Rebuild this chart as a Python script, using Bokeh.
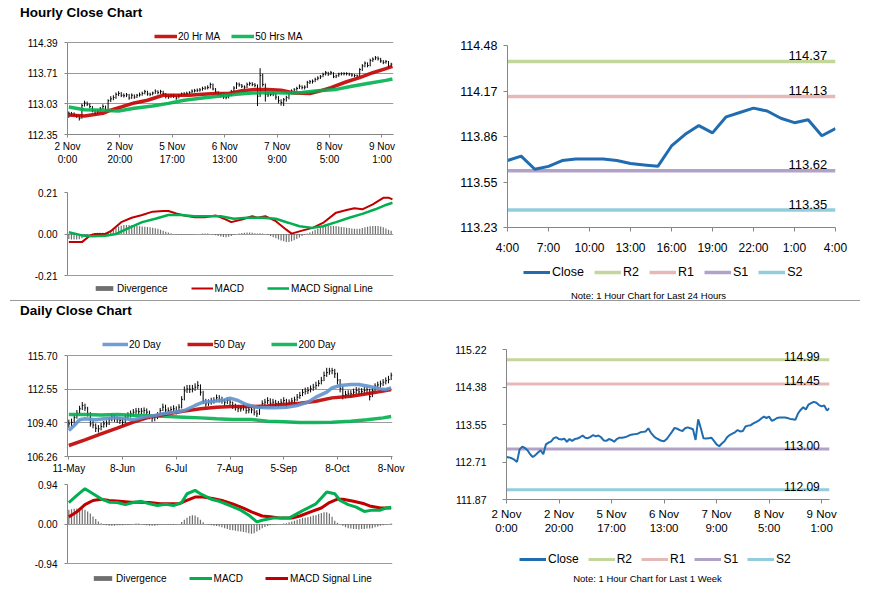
import numpy as np
from bokeh.plotting import figure
from bokeh.layouts import column, row
from bokeh.models import Div, Legend, LegendItem, FixedTicker, Label, Range1d
from bokeh.embed import file_html
from bokeh.resources import INLINE

FONT = "Liberation Sans"
AX = "#868686"
GRID = "#9a9a9a"

# ---------------- hourly data (1 week, hourly bars) ----------------
hourly_close = [
    112.82, 112.81, 112.79, 112.76, 112.71, 112.99, 113.05, 113.02, 112.97, 112.88,
    112.82, 112.86, 112.92, 112.97, 112.88, 113.10, 113.14, 113.17, 113.24, 113.26,
    113.22, 113.21, 113.23, 113.16, 113.22, 113.18, 113.22, 113.23, 113.26, 113.30,
    113.25, 113.24, 113.27, 113.31, 113.28, 113.30, 113.26, 113.19, 113.18, 113.22,
    113.20, 113.16, 113.22, 113.25, 113.25, 113.26, 113.28, 113.31, 113.32, 113.33,
    113.34, 113.37, 113.38, 113.39, 113.46, 113.36, 113.29, 113.24, 113.21, 113.18,
    113.17, 113.22, 113.30, 113.38, 113.47, 113.45, 113.42, 113.40, 113.46, 113.48,
    113.46, 113.44, 113.20, 113.66, 113.46, 113.24, 113.23, 113.24, 113.25, 113.18,
    113.10, 113.06, 113.12, 113.17, 113.26, 113.31, 113.34, 113.37, 113.42, 113.39,
    113.40, 113.50, 113.52, 113.53, 113.57, 113.60, 113.63, 113.68, 113.72, 113.69,
    113.72, 113.63, 113.65, 113.69, 113.70, 113.70, 113.70, 113.69, 113.67, 113.66,
    113.65, 113.79, 113.87, 113.93, 113.88, 113.99, 114.02, 114.05, 114.03, 113.98,
    113.95, 113.97, 113.86, 113.91]
hourly_high = [
    112.86, 112.85, 112.84, 112.80, 112.78, 113.03, 113.10, 113.08, 113.04, 112.98,
    112.90, 112.91, 112.96, 113.02, 112.99, 113.13, 113.20, 113.22, 113.28, 113.31,
    113.29, 113.26, 113.27, 113.25, 113.26, 113.24, 113.25, 113.28, 113.30, 113.34,
    113.32, 113.28, 113.30, 113.35, 113.33, 113.34, 113.32, 113.27, 113.22, 113.25,
    113.25, 113.21, 113.25, 113.28, 113.29, 113.30, 113.31, 113.35, 113.36, 113.37,
    113.38, 113.41, 113.42, 113.44, 113.50, 113.48, 113.38, 113.31, 113.26, 113.23,
    113.21, 113.26, 113.34, 113.42, 113.51, 113.50, 113.47, 113.44, 113.50, 113.52,
    113.51, 113.49, 113.46, 113.82, 113.70, 113.48, 113.29, 113.28, 113.29, 113.27,
    113.20, 113.13, 113.16, 113.21, 113.29, 113.35, 113.38, 113.41, 113.46, 113.44,
    113.44, 113.54, 113.56, 113.57, 113.61, 113.64, 113.67, 113.72, 113.76, 113.74,
    113.76, 113.73, 113.68, 113.72, 113.73, 113.73, 113.73, 113.72, 113.71, 113.69,
    113.68, 113.82, 113.91, 113.97, 113.95, 114.03, 114.06, 114.09, 114.08, 114.05,
    114.00, 114.00, 113.98, 113.94]
hourly_low = [
    112.72, 112.76, 112.75, 112.72, 112.66, 112.70, 112.97, 112.98, 112.93, 112.84,
    112.78, 112.80, 112.84, 112.90, 112.85, 112.86, 113.07, 113.11, 113.14, 113.20,
    113.18, 113.17, 113.18, 113.12, 113.14, 113.14, 113.16, 113.19, 113.21, 113.24,
    113.21, 113.20, 113.22, 113.25, 113.24, 113.25, 113.22, 113.15, 113.14, 113.16,
    113.16, 113.12, 113.15, 113.20, 113.21, 113.22, 113.24, 113.26, 113.28, 113.29,
    113.30, 113.32, 113.34, 113.35, 113.37, 113.33, 113.25, 113.20, 113.17, 113.14,
    113.13, 113.15, 113.20, 113.28, 113.36, 113.41, 113.38, 113.36, 113.38, 113.43,
    113.42, 113.40, 112.98, 113.18, 113.41, 113.08, 113.18, 113.20, 113.20, 113.12,
    113.04, 112.99, 112.98, 113.08, 113.13, 113.24, 113.29, 113.32, 113.36, 113.35,
    113.35, 113.38, 113.47, 113.48, 113.51, 113.55, 113.58, 113.62, 113.66, 113.65,
    113.67, 113.60, 113.60, 113.63, 113.66, 113.66, 113.66, 113.65, 113.63, 113.62,
    113.61, 113.63, 113.76, 113.84, 113.84, 113.86, 113.96, 114.00, 113.99, 113.94,
    113.91, 113.92, 113.82, 113.84]
ma20h_idx = [0, 6, 13, 16, 20, 25, 30, 36, 41, 46, 51, 56, 61, 66, 71, 76, 81, 86, 92, 95,
             100, 106, 111, 116, 121, 123.5]
ma20h = [112.78, 112.76, 112.82, 112.89, 112.96, 113.05, 113.11, 113.22, 113.22, 113.22,
         113.24, 113.26, 113.26, 113.32, 113.35, 113.35, 113.33, 113.27, 113.26, 113.30,
         113.39, 113.52, 113.61, 113.72, 113.81, 113.86]
ma50h_idx = [0, 6, 13, 19, 25, 32, 38, 44, 51, 57, 64, 70, 76, 83, 89, 95, 102, 108, 114, 121, 123.5]
ma50h = [112.96, 112.90, 112.89, 112.87, 112.93, 112.98, 113.04, 113.11, 113.16, 113.20,
         113.24, 113.27, 113.28, 113.27, 113.28, 113.32, 113.35, 113.42, 113.48, 113.55, 113.58]
hourly_xlabels = ["2 Nov\n0:00", "2 Nov\n20:00", "5 Nov\n17:00", "6 Nov\n13:00",
                  "7 Nov\n9:00", "8 Nov\n5:00", "9 Nov\n1:00"]
hourly_yticks = [112.35, 113.03, 113.71, 114.39]

# hourly MACD
hmacd_idx = [0, 5, 8, 10, 14, 16, 20, 24, 28, 32, 36, 38, 41, 44, 48, 52, 56, 60, 62, 66,
             70, 72, 75, 79, 83, 85, 89, 93, 97, 102, 106, 109, 112, 116, 120, 122, 123.5]
hmacd = [-0.041, -0.041, -0.009, 0.0, 0.0, 0.014, 0.06, 0.082, 0.096, 0.113, 0.116, 0.116,
         0.104, 0.094, 0.085, 0.085, 0.094, 0.073, 0.06, 0.073, 0.09, 0.082, 0.09, 0.065,
         0.022, 0.002, 0.017, 0.031, 0.056, 0.108, 0.121, 0.13, 0.125, 0.15, 0.183, 0.184, 0.175]
hsig_idx = [0, 5, 9, 14, 18, 23, 28, 33, 38, 43, 48, 53, 58, 63, 68, 74, 79, 84, 88, 93,
            97, 102, 107, 112, 117, 121, 123.5]
hsig = [0.009, -0.007, -0.012, -0.009, 0.0, 0.031, 0.06, 0.077, 0.096, 0.096, 0.09, 0.09,
        0.09, 0.077, 0.082, 0.082, 0.077, 0.056, 0.039, 0.031, 0.039, 0.06, 0.082, 0.102,
        0.125, 0.147, 0.158]
hdiv = [
    -0.025, -0.028, -0.028, -0.028, -0.026, -0.022, -0.015, -0.008, 0.000, 0.003,
    0.005, 0.006, 0.006, 0.006, 0.008, 0.012, 0.018, 0.026, 0.033, 0.038,
    0.042, 0.045, 0.046, 0.046, 0.045, 0.043, 0.041, 0.039, 0.038, 0.037,
    0.035, 0.034, 0.032, 0.029, 0.026, 0.022, 0.017, 0.012, 0.008, 0.004,
    0.000, -0.002, -0.003, -0.004, -0.004, -0.003, -0.002, -0.002, -0.001, 0.000,
    0.000, 0.002, 0.003, 0.002, 0.000, -0.003, -0.006, -0.010, -0.013, -0.015,
    -0.016, -0.014, -0.010, -0.005, 0.000, 0.003, 0.005, 0.006, 0.007, 0.007,
    0.006, 0.004, 0.002, 0.004, 0.003, 0.000, -0.005, -0.010, -0.016, -0.022,
    -0.028, -0.033, -0.037, -0.040, -0.040, -0.037, -0.032, -0.025, -0.018, -0.010,
    -0.004, 0.002, 0.008, 0.014, 0.020, 0.026, 0.031, 0.035, 0.038, 0.040,
    0.041, 0.041, 0.040, 0.038, 0.036, 0.034, 0.032, 0.030, 0.028, 0.027,
    0.026, 0.027, 0.030, 0.034, 0.037, 0.039, 0.040, 0.041, 0.040, 0.038,
    0.034, 0.028, 0.022, 0.016]
hmacd_yticks = [-0.21, 0.0, 0.21]
hmacd_ylabels = ["-0.21", "0.00", "0.21"]

# ---------------- daily data ----------------
daily_close = [
    109.31, 109.45, 109.90, 110.30, 110.72, 111.03, 110.80, 110.25, 109.31, 109.20,
    108.90, 108.85, 109.06, 109.31, 109.31, 109.70, 109.94, 109.80, 109.69, 109.63,
    109.45, 109.90, 110.10, 110.25, 110.40, 110.50, 110.45, 110.50, 110.56, 110.40,
    110.09, 109.85, 109.90, 110.09, 110.56, 110.87, 110.60, 110.56, 110.65, 110.72,
    110.56, 110.87, 111.60, 112.40, 112.58, 112.55, 112.60, 112.74, 112.90, 112.27,
    111.45, 111.18, 111.34, 111.45, 111.49, 111.75, 111.60, 111.49, 111.34, 111.49,
    111.34, 111.00, 110.87, 110.72, 110.72, 110.87, 110.56, 110.62, 110.62, 110.40,
    110.25, 110.80, 111.20, 111.34, 111.49, 111.25, 111.34, 111.20, 111.18, 111.34,
    111.49, 111.18, 111.34, 111.45, 111.55, 111.80, 111.96, 112.25, 112.35, 112.43,
    112.58, 112.74, 112.90, 113.10, 113.36, 113.83, 114.10, 114.25, 114.30, 113.99,
    113.40, 112.60, 111.96, 112.05, 112.12, 112.12, 112.27, 112.43, 112.30, 112.35,
    112.43, 112.49, 111.85, 112.40, 112.85, 112.95, 113.05, 113.20, 113.35, 113.45,
    113.85]
daily_high = [
    109.70, 109.80, 110.20, 110.60, 111.00, 111.35, 111.20, 110.90, 110.40, 109.60,
    109.35, 109.20, 109.40, 109.60, 109.65, 109.95, 110.25, 110.15, 110.00, 109.95,
    109.85, 110.15, 110.40, 110.55, 110.70, 110.80, 110.80, 110.80, 110.85, 110.75,
    110.55, 110.20, 110.20, 110.40, 110.80, 111.20, 111.10, 110.85, 110.95, 111.05,
    110.95, 111.15, 111.90, 112.80, 112.95, 112.95, 112.95, 113.10, 113.30, 113.00,
    112.40, 111.65, 111.60, 111.75, 111.80, 112.05, 112.00, 111.85, 111.65, 111.80,
    111.70, 111.40, 111.20, 111.05, 111.00, 111.15, 111.00, 110.90, 110.95, 110.80,
    110.60, 111.05, 111.50, 111.65, 111.80, 111.70, 111.65, 111.55, 111.45, 111.65,
    111.80, 111.65, 111.60, 111.75, 111.85, 112.10, 112.30, 112.55, 112.70, 112.75,
    112.90, 113.05, 113.25, 113.40, 113.70, 114.20, 114.55, 114.55, 114.55, 114.45,
    114.10, 113.50, 112.80, 112.40, 112.45, 112.45, 112.60, 112.75, 112.70, 112.65,
    112.75, 112.80, 112.60, 112.70, 113.10, 113.25, 113.35, 113.50, 113.65, 113.80,
    114.10]
daily_low = [
    108.95, 109.10, 109.35, 109.80, 110.20, 110.60, 110.50, 110.00, 109.05, 108.90,
    108.55, 108.50, 108.70, 108.95, 109.00, 109.20, 109.55, 109.50, 109.40, 109.30,
    109.15, 109.35, 109.75, 109.90, 110.05, 110.20, 110.15, 110.20, 110.25, 110.05,
    109.75, 109.50, 109.55, 109.75, 110.00, 110.50, 110.30, 110.25, 110.35, 110.40,
    110.20, 110.45, 110.75, 111.50, 112.20, 112.20, 112.25, 112.40, 112.55, 111.95,
    111.15, 110.90, 111.00, 111.10, 111.20, 111.40, 111.30, 111.20, 111.00, 111.15,
    111.00, 110.70, 110.55, 110.40, 110.45, 110.55, 110.25, 110.30, 110.30, 110.10,
    109.95, 110.15, 110.75, 111.00, 111.15, 110.95, 111.00, 110.90, 110.85, 111.00,
    111.15, 110.85, 111.00, 111.15, 111.20, 111.45, 111.65, 111.90, 112.05, 112.10,
    112.25, 112.40, 112.55, 112.80, 113.00, 113.30, 113.70, 113.90, 113.95, 113.60,
    113.00, 112.25, 111.60, 111.70, 111.80, 111.80, 111.95, 112.10, 112.00, 112.05,
    112.10, 112.15, 111.50, 111.80, 112.35, 112.60, 112.70, 112.85, 113.00, 113.10,
    113.40]
ma20d_idx = [0, 2, 4, 6, 10, 13, 17, 21, 24, 28, 32, 35, 39, 43, 47, 50, 54, 58, 60, 63,
             66, 70, 74, 77, 81, 85, 89, 92, 96, 98, 101, 105, 108, 112, 116, 118, 120]
ma20d = [108.69, 109.16, 109.69, 109.78, 109.69, 109.78, 109.87, 109.78, 109.69, 109.94,
         110.09, 110.25, 110.40, 110.56, 111.03, 111.34, 111.43, 111.55, 111.71, 111.49,
         111.12, 110.87, 110.81, 110.81, 110.87, 111.03, 111.34, 111.81, 112.27, 112.68,
         112.90, 112.99, 112.99, 112.80, 112.58, 112.52, 112.68]
ma50d_idx = [0, 6, 12, 18, 24, 30, 37, 43, 49, 55, 61, 68, 74, 80, 86, 92, 98, 105, 111, 117, 120]
ma50d = [107.29, 107.82, 108.38, 108.91, 109.47, 109.94, 110.25, 110.50, 110.72, 110.87,
         110.93, 110.93, 110.99, 111.12, 111.24, 111.43, 111.74, 111.90, 112.12, 112.37, 112.52]
ma200d_idx = [0, 6, 12, 18, 24, 30, 37, 43, 49, 55, 61, 68, 74, 80, 86, 92, 98, 105, 111, 117, 120]
ma200d = [110.19, 110.19, 110.15, 110.19, 110.12, 110.06, 110.00, 109.94, 109.87, 109.78,
          109.72, 109.72, 109.56, 109.50, 109.44, 109.44, 109.47, 109.56, 109.69, 109.87, 110.00]
daily_xlabels = ["11-May", "8-Jun", "6-Jul", "7-Aug", "5-Sep", "8-Oct", "8-Nov"]
daily_yticks = [106.26, 109.40, 112.55, 115.70]

dmacd_idx = [0, 3, 6, 9, 12, 15, 18, 21, 24, 27, 30, 33, 36, 39, 42, 44, 47, 49, 53, 56,
             60, 64, 67, 70, 72, 76, 79, 82, 84, 88, 92, 94, 96, 99, 101, 104, 107, 110, 113, 116,
             118, 120]
dmacd = [0.51, 0.68, 0.84, 0.72, 0.60, 0.52, 0.51, 0.46, 0.51, 0.54,
         0.48, 0.44, 0.47, 0.44, 0.51, 0.72, 0.80, 0.72, 0.59, 0.54,
         0.44, 0.33, 0.21, 0.05, 0.09, 0.14, 0.14, 0.14, 0.21, 0.35,
         0.48, 0.62, 0.76, 0.72, 0.56, 0.46, 0.40, 0.30, 0.33, 0.33,
         0.38, 0.40]
dsig_idx = [0, 3, 6, 9, 12, 15, 19, 23, 26, 30, 34, 37, 41, 43, 47, 50, 54, 57, 61, 65,
            68, 72, 75, 79, 83, 86, 90, 94, 97, 100, 102, 106, 110, 112, 116, 118, 120]
dsig = [0.17, 0.29, 0.46, 0.56, 0.59, 0.56, 0.54, 0.52, 0.52, 0.51,
        0.48, 0.48, 0.48, 0.54, 0.64, 0.64, 0.60, 0.56, 0.48, 0.38,
        0.29, 0.19, 0.17, 0.14, 0.14, 0.19, 0.29, 0.38, 0.51, 0.59,
        0.59, 0.54, 0.48, 0.43, 0.38, 0.38, 0.38]
ddiv = [
    0.34, 0.35, 0.36, 0.37, 0.38, 0.36, 0.34, 0.30, 0.25, 0.18,
    0.12, 0.06, 0.02, -0.02, -0.03, -0.04, -0.04, -0.04, -0.03, -0.03,
    -0.03, -0.02, -0.02, -0.01, 0.00, 0.01, 0.01, 0.00, -0.02, -0.03,
    -0.04, -0.04, -0.04, -0.03, -0.02, -0.01, -0.01, -0.02, -0.02, -0.02,
    -0.01, 0.00, 0.05, 0.10, 0.15, 0.19, 0.21, 0.20, 0.16, 0.10,
    0.04, 0.00, -0.02, -0.03, -0.04, -0.05, -0.06, -0.08, -0.10, -0.12,
    -0.14, -0.15, -0.16, -0.17, -0.18, -0.19, -0.20, -0.22, -0.23, -0.22,
    -0.18, -0.14, -0.10, -0.07, -0.05, -0.03, -0.02, -0.01, 0.00, 0.00,
    0.01, 0.02, 0.04, 0.06, 0.08, 0.10, 0.12, 0.14, 0.15, 0.16,
    0.18, 0.20, 0.21, 0.24, 0.26, 0.28, 0.28, 0.25, 0.17, 0.08,
    0.03, 0.00, -0.04, -0.08, -0.10, -0.11, -0.12, -0.12, -0.13, -0.12,
    -0.12, -0.11, -0.11, -0.10, -0.08, -0.06, -0.04, -0.03, -0.01, 0.00,
    0.01]
dmacd_yticks = [-0.94, 0.0, 0.94]
dmacd_ylabels = ["-0.94", "0.00", "0.94"]

# ---------------- pivot levels ----------------
levels_names = ["R2", "R1", "S1", "S2"]
levels_colors = ["#C3D69B", "#E6B9B8", "#B3A2C7", "#93CDDD"]
levels_24h = [114.37, 114.13, 113.62, 113.35]
levels_week = [114.99, 114.45, 113.00, 112.09]
last24_xlabels = ["4:00", "7:00", "10:00", "13:00", "16:00", "19:00", "22:00", "1:00", "4:00"]
last24_yticks = [113.23, 113.5425, 113.855, 114.1675, 114.48]
last24_ylabels = ["113.23", "113.55", "113.86", "114.17", "114.48"]
week_yticks = [111.87, 112.7075, 113.545, 114.3825, 115.22]
week_ylabels = ["111.87", "112.71", "113.55", "114.38", "115.22"]

CLOSE_COLOR = "#1F6CB0"
RED = "#C00000"
GREEN = "#00B050"
BLUE = "#6092CD"


def make_fig(w, h, xr, yr, bl, br, bt, bb):
    p = figure(width=w, height=h, x_range=xr, y_range=yr, output_backend="svg",
               toolbar_location=None, tools="", min_border_left=bl, min_border_right=br,
               min_border_top=bt, min_border_bottom=bb)
    p.outline_line_color = None
    p.background_fill_color = "white"
    p.border_fill_color = "white"
    p.xgrid.grid_line_color = None
    p.ygrid.grid_line_color = None
    return p


def legend_fig(w, h):
    f = figure(width=w, height=h, x_range=Range1d(0, 1), y_range=Range1d(0, 1),
               output_backend="svg", toolbar_location=None, tools="",
               x_axis_type=None, y_axis_type=None, min_border_left=0, min_border_right=0,
               min_border_top=0, min_border_bottom=0)
    f.outline_line_color = None
    f.background_fill_color = "white"
    f.border_fill_color = "white"
    return f


def style_axis(ax, size, tick_out=3, standoff=5):
    ax.axis_line_color = AX
    ax.axis_line_width = 1
    ax.major_tick_line_color = AX
    ax.major_tick_in = 0
    ax.major_tick_out = tick_out
    ax.minor_tick_line_color = None
    ax.major_label_text_font = FONT
    ax.major_label_text_font_size = size
    ax.major_label_text_color = "#000000"
    ax.major_label_standoff = standoff


def set_ticks(ax, ticks, labels):
    ax.ticker = FixedTicker(ticks=list(ticks))
    ax.major_label_overrides = {t: l for t, l in zip(ticks, labels)}


def add_legend(p, items, loc, size, glyph_w, spacing, glyph_h=8, label_h=12, standoff=3):
    lg = Legend(items=[LegendItem(label=l, renderers=[r]) for l, r in items],
                location=loc, orientation="horizontal",
                label_text_font=FONT, label_text_font_size=size, label_text_color="#000000",
                glyph_width=glyph_w, glyph_height=glyph_h, label_height=label_h, label_width=0,
                label_standoff=standoff, spacing=spacing, padding=0, margin=0,
                border_line_color=None, background_fill_alpha=0)
    p.add_layout(lg, "center")


def extended(lo, hi, plot_px, frame_px, side):
    # range whose [lo, hi] part fills plot_px of a frame that is frame_px tall
    span = (hi - lo) * frame_px / plot_px
    return Range1d(lo, lo + span) if side == "top" else Range1d(hi - span, hi)


LEFT_W, RIGHT_W = 428, 444
NO_DATA = np.array([np.nan])

# ======== Hourly price (top-left) ========
hx = np.arange(len(hourly_close))
p1 = make_fig(LEFT_W, 142, Range1d(-0.5, 123.9),
              extended(hourly_yticks[0], hourly_yticks[-1], 92, 106, "top"), 67, 35, 2, 34)
p1.ygrid.grid_line_color = GRID
style_axis(p1.yaxis[0], "10px", 3, 7)
style_axis(p1.xaxis[0], "10px", 3, 3)
p1.yaxis.bounds = (hourly_yticks[0], hourly_yticks[-1])
set_ticks(p1.yaxis[0], hourly_yticks, [f"{v:.2f}" for v in hourly_yticks])
set_ticks(p1.xaxis[0], [20 * k - 0.5 for k in range(len(hourly_xlabels))], hourly_xlabels)
p1.segment(x0=hx, x1=hx, y0=hourly_low, y1=hourly_high, line_color="black", line_width=1)
p1.segment(x0=hx, x1=hx + 0.45, y0=hourly_close, y1=hourly_close, line_color="black", line_width=1)
r_ma20h = p1.line(ma20h_idx, ma20h, line_color=RED, line_width=3.5, line_alpha=0.9)
r_ma50h = p1.line(ma50h_idx, ma50h, line_color=GREEN, line_width=3.5, line_alpha=0.9)
add_legend(p1, [("20 Hr MA", r_ma20h), ("50 Hrs MA", r_ma50h)], (87, 92), "10px", 23, 11, 8, 12, 1)

# ======== Hourly MACD ========
m1 = make_fig(LEFT_W, 132, Range1d(-0.5, 123.9),
              extended(-0.21, 0.21, 83, 105, "bottom"), 67, 35, 24, 3)
m1.ygrid.grid_line_color = GRID
m1.xaxis.visible = False
style_axis(m1.yaxis[0], "10px", 3, 7)
m1.yaxis.bounds = (-0.21, 0.21)
set_ticks(m1.yaxis[0], hmacd_yticks, hmacd_ylabels)
r_hdiv = m1.vbar(x=hx, top=hdiv, bottom=0, width=0.45, fill_color="#6f6f6f", line_color=None)
r_hmacd = m1.line(hmacd_idx, hmacd, line_color=RED, line_width=2)
r_hsig = m1.line(hsig_idx, hsig, line_color=GREEN, line_width=2.5)
add_legend(m1, [("Divergence", r_hdiv), ("MACD", r_hmacd), ("MACD Signal Line", r_hsig)],
           (26, 3), "10px", 22, 23, 6, 12, 2)

# ======== Last 24 hours (top-right) ========
last24 = hourly_close[-25:]
x24 = np.arange(len(last24))
r1 = make_fig(RIGHT_W, 232, Range1d(0, len(last24) - 1),
              Range1d(last24_yticks[0], last24_yticks[-1]), 79, 37, 19, 31)
style_axis(r1.yaxis[0], "12.5px", 4, 6)
style_axis(r1.xaxis[0], "12px", 4, 9)
set_ticks(r1.yaxis[0], last24_yticks, last24_ylabels)
set_ticks(r1.xaxis[0], list(range(0, len(last24), 3)), last24_xlabels)
for name, col, lv in zip(levels_names, levels_colors, levels_24h):
    r1.line([x24[0], x24[-1]], [lv, lv], line_color=col, line_width=3.5)
    r1.add_layout(Label(x=x24[-1] - 0.6, y=lv, text=f"{lv:.2f}", text_align="right",
                        text_baseline="alphabetic", y_offset=6, text_font=FONT,
                        text_font_size="13px", text_color="#000000"))
r1.line(x24, last24, line_color=CLOSE_COLOR, line_width=3)

# legend strip under the 24h chart (its frame lines up with the chart's frame)
l1 = legend_fig(RIGHT_W, 42)
k1 = [("Close", l1.line(NO_DATA, NO_DATA, line_color=CLOSE_COLOR, line_width=3))]
for name, col in zip(levels_names, levels_colors):
    k1.append((name, l1.line(NO_DATA, NO_DATA, line_color=col, line_width=3.5)))
add_legend(l1, k1, (16, 21), "12.5px", 27, 10, 8, 15, 2)
l1.add_layout(Label(x=141, y=5, x_units="screen", y_units="screen",
                    text="Note: 1 Hour Chart for Last 24 Hours", text_align="center",
                    text_baseline="middle", text_font=FONT, text_font_size="9.5px",
                    text_color="#000000"))

# ======== Daily price ========
dx = np.arange(len(daily_close))
p2 = make_fig(LEFT_W, 156, Range1d(-0.5, 120.5),
              extended(daily_yticks[0], daily_yticks[-1], 101, 120, "top"), 67, 36, 15, 21)
p2.ygrid.grid_line_color = GRID
style_axis(p2.yaxis[0], "10px", 3, 7)
style_axis(p2.xaxis[0], "10px", 3, 3)
p2.yaxis.bounds = (daily_yticks[0], daily_yticks[-1])
set_ticks(p2.yaxis[0], daily_yticks, [f"{v:.2f}" for v in daily_yticks])
set_ticks(p2.xaxis[0], [20 * k for k in range(len(daily_xlabels))], daily_xlabels)
p2.segment(x0=dx, x1=dx, y0=daily_low, y1=daily_high, line_color="black", line_width=1)
p2.segment(x0=dx, x1=dx + 0.45, y0=daily_close, y1=daily_close, line_color="black", line_width=1)
r_ma200 = p2.line(ma200d_idx, ma200d, line_color=GREEN, line_width=3.5, line_alpha=0.9)
r_ma50 = p2.line(ma50d_idx, ma50d, line_color=RED, line_width=3.5, line_alpha=0.9)
r_ma20 = p2.line(ma20d_idx, ma20d, line_color=BLUE, line_width=3.5, line_alpha=0.9)
add_legend(p2, [("20 Day", r_ma20), ("50 Day", r_ma50), ("200 Day", r_ma200)], (35, 106),
           "10px", 26, 26, 8, 12, 1)

# ======== Daily MACD ========
m2 = make_fig(LEFT_W, 117, Range1d(-0.5, 120.5),
              extended(-0.94, 0.94, 79, 104, "bottom"), 67, 36, 7, 6)
m2.ygrid.grid_line_color = GRID
m2.xaxis.visible = False
style_axis(m2.yaxis[0], "10px", 3, 7)
m2.yaxis.bounds = (-0.94, 0.94)
set_ticks(m2.yaxis[0], dmacd_yticks, dmacd_ylabels)
r_ddiv = m2.vbar(x=dx, top=ddiv, bottom=0, width=0.45, fill_color="#6f6f6f", line_color=None)
r_dsig = m2.line(dsig_idx, dsig, line_color=RED, line_width=3)
r_dmacd = m2.line(dmacd_idx, dmacd, line_color=GREEN, line_width=3)
add_legend(m2, [("Divergence", r_ddiv), ("MACD", r_dmacd), ("MACD Signal Line", r_dsig)],
           (24, 4), "10px", 23, 22, 6, 12, 2)

# ======== Last week hourly (bottom-right) ========
r2 = make_fig(RIGHT_W, 216, Range1d(0, len(hourly_close) - 1),
              Range1d(week_yticks[0], week_yticks[-1]), 78, 43, 28, 38)
style_axis(r2.yaxis[0], "10.5px", 4, 16)
style_axis(r2.xaxis[0], "11.5px", 4, 4)
set_ticks(r2.yaxis[0], week_yticks, week_ylabels)
set_ticks(r2.xaxis[0], [20 * k for k in range(len(hourly_xlabels))], hourly_xlabels)
for name, col, lv in zip(levels_names, levels_colors, levels_week):
    r2.line([hx[0], hx[-1]], [lv, lv], line_color=col, line_width=3)
    r2.add_layout(Label(x=hx[-1] - 3.7, y=lv, text=f"{lv:.2f}", text_align="right",
                        text_baseline="alphabetic", y_offset=3, text_font=FONT,
                        text_font_size="12px", text_color="#000000"))
r2.line(hx, hourly_close, line_color=CLOSE_COLOR, line_width=2)

l2 = legend_fig(RIGHT_W, 57)
k2 = [("Close", l2.line(NO_DATA, NO_DATA, line_color=CLOSE_COLOR, line_width=3))]
for name, col in zip(levels_names, levels_colors):
    k2.append((name, l2.line(NO_DATA, NO_DATA, line_color=col, line_width=3)))
add_legend(l2, k2, (13, 28), "12px", 27, 9, 8, 14, 2)
l2.add_layout(Label(x=141, y=16, x_units="screen", y_units="screen",
                    text="Note: 1 Hour Chart for Last 1 Week", text_align="center",
                    text_baseline="middle", text_font=FONT, text_font_size="9.5px",
                    text_color="#000000"))


# ======== page layout ========
TXT = "font-family:'Liberation Sans';font-weight:bold;font-size:13.5px;color:#000;white-space:nowrap;"
title1 = Div(text=f'<div style="{TXT}padding-left:20px;line-height:26px">Hourly Close Chart</div>',
             width=LEFT_W + RIGHT_W, height=26, margin=(0, 0, 0, 0))
title2 = Div(text=f'<div style="{TXT}margin-left:10px;width:850px;border-top:1.5px solid #9a9a9a;'
                  f'padding-left:10px;line-height:19px;height:19px">Daily Close Chart</div>',
             width=LEFT_W + RIGHT_W, height=21, margin=(0, 0, 0, 0))
sep2 = Div(text='<div style="width:850px;height:0;border-top:1.5px solid #9a9a9a;'
                'margin-left:10px;margin-top:2px"></div>',
           width=LEFT_W + RIGHT_W, height=4, margin=(0, 0, 0, 0))

top = row(column(p1, m1, spacing=0), column(r1, l1, spacing=0), spacing=0)
bottom = row(column(p2, m2, spacing=0), column(r2, l2, spacing=0), spacing=0)
page = column(title1, top, title2, bottom, sep2, spacing=0)

open("out.html", "w").write(file_html(page, INLINE))
